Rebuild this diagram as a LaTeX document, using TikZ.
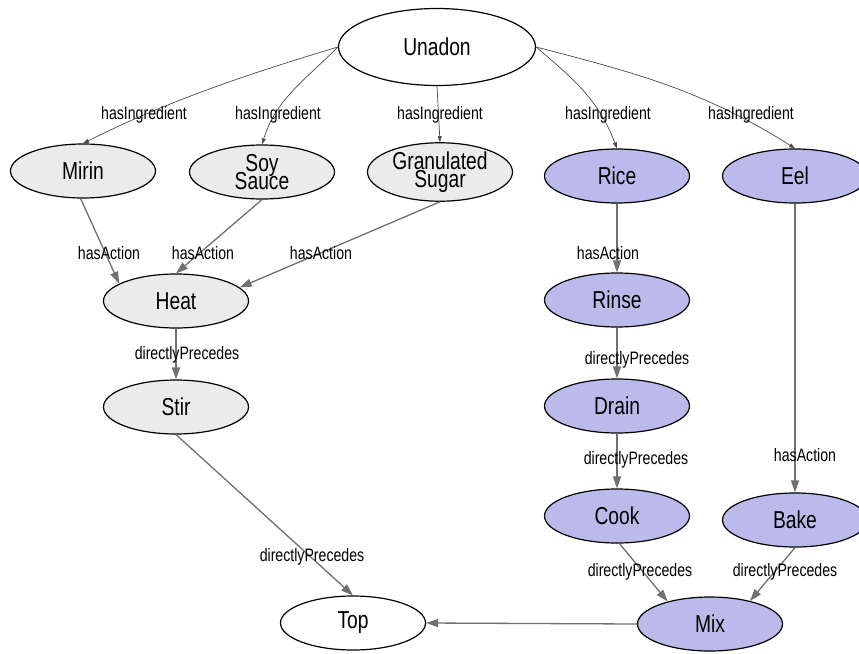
\documentclass[tikz,border=0pt]{standalone}
\usepackage{fontspec}
\setmainfont{Liberation Sans}[FakeStretch=0.785]
\usetikzlibrary{shapes.geometric,arrows.meta}
\definecolor{gfill}{HTML}{EBEBEB}
\definecolor{pfill}{HTML}{BBBBEB}
\definecolor{egray}{HTML}{707070}
\newcommand{\ndfnt}{\fontsize{24.5}{18.5}\selectfont\lineskiplimit=-100pt\relax}
\begin{document}
\begin{tikzpicture}[x=1pt,y=-1pt,
  nd/.style={ellipse,draw=black,line width=1.2pt,minimum width=145pt,minimum height=54pt,inner sep=0pt,
    font=\ndfnt,align=center},
  gnode/.style={nd,fill=gfill},
  pnode/.style={nd,fill=pfill},
  wnode/.style={nd,fill=white},
  lbl/.style={font=\fontsize{18}{20}\selectfont,inner sep=0pt},
  ing/.style={draw=black!70,line width=0.7pt,-{Triangle[length=6pt,width=4pt]}},
  rel/.style={draw=egray,line width=1.3pt,-{Triangle[length=12pt,width=8pt]}}]
\useasboundingbox (0,0) rectangle (859,653);
\clip (0,0) rectangle (859,653);
\fill[white] (0,0) rectangle (859,653);

% nodes
\node[wnode,minimum width=197pt,minimum height=77pt] (u) at (437,47) {Unadon};
\node[gnode] (mirin) at (83,171) {Mirin};
\node[gnode] (soy) at (262,172) {Soy\\Sauce};
\node[gnode] (sugar) at (440,172) {Granulated\\Sugar};
\node[pnode] (rice) at (617,176) {Rice};
\node[pnode] (eel) at (795,176) {Eel};
\node[gnode] (heat) at (176,301) {Heat};
\node[gnode] (stir) at (176,407) {Stir};
\node[pnode] (rinse) at (617,300) {Rinse};
\node[pnode] (drain) at (617,406) {Drain};
\node[pnode] (cook) at (617,516) {Cook};
\node[pnode] (bake) at (795,520) {Bake};
\node[pnode] (mix) at (710,624) {Mix};
\node[wnode] (top) at (353,623) {Top};

% ingredient edges
\draw[ing] (u.west) .. controls +(-100,30) and +(80,-40) .. (mirin.north);
\draw[ing] (u.west) .. controls +(-35,35) and +(14,-45) .. (soy.north);
\draw[ing] (u.south) -- (sugar.north);
\draw[ing] (u.east) .. controls +(35,30) and +(-19,-50) .. (rice.north);
\draw[ing] (u.east) .. controls +(100,26) and +(-92,-58) .. (eel.north);

% relation edges
\draw[rel] (mirin.265) -- (heat.163);
\draw[rel] (soy.south) -- (heat.north);
\draw[rel] (sugar.south) -- (heat.12);
\draw[rel] (heat.south) -- (stir.north);
\draw[rel] (stir.south) -- (top.north);
\draw[rel] (rice.south) -- (rinse.north);
\draw[rel] (rinse.south) -- (drain.north);
\draw[rel] (drain.south) -- (cook.north);
\draw[rel] (eel.south) -- (bake.north);
\draw[rel] (cook.-85) -- (mix.152);
\draw[rel] (bake.south) -- (mix.30);
\draw[rel] (mix.west) -- (top.east);

% labels
\node[lbl] (l1) at (144,115) {hasIngredient};
\node[lbl] (l2) at (278,115) {hasIngredient};
\node[lbl] (l3) at (440,115) {hasIngredient};
\node[lbl] (l4) at (608,115) {hasIngredient};
\node[lbl] (l5) at (751,115) {hasIngredient};
\node[lbl] (a1) at (109,253) {hasAction};
\node[lbl] (a2) at (203,253) {hasAction};
\node[lbl] (a3) at (321,253) {hasAction};
\node[lbl] (a4) at (608,253) {hasAction};
\node[lbl] (a5) at (805,455) {hasAction};
\node[lbl] (d1) at (187,355) {directlyPrecedes};
\node[lbl] (d2) at (637,360) {directlyPrecedes};
\node[lbl] (d3) at (636,460) {directlyPrecedes};
\node[lbl] (d4) at (312,557) {directlyPrecedes};
\node[lbl] (d5) at (640,572) {directlyPrecedes};
\node[lbl] (d6) at (785,572) {directlyPrecedes};
\end{tikzpicture}
\end{document}
